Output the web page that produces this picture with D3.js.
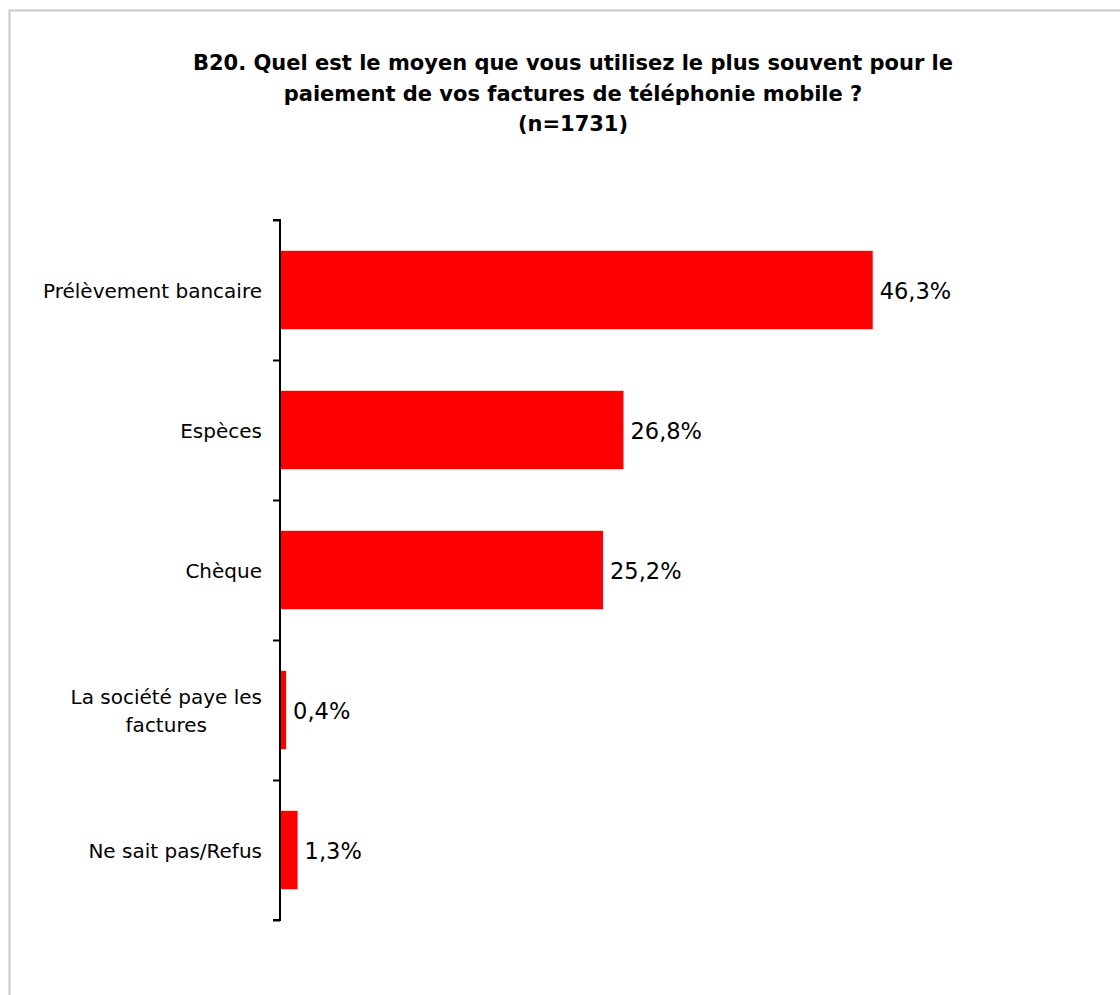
<!DOCTYPE html>
<html><head><meta charset="utf-8">
<script src="https://cdn.jsdelivr.net/npm/d3@7"></script>
<style>
html,body{margin:0;padding:0;background:#fff;}
svg{display:block;}
</style></head>
<body>
<script>
const categories = ["Prélèvement bancaire", "Espèces", "Chèque", "La société paye les factures", "Ne sait pas/Refus"];
const categoryLines = [["Prélèvement bancaire"], ["Espèces"], ["Chèque"], ["La société paye les", "factures"], ["Ne sait pas/Refus"]];
const values = [46.3, 26.8, 25.2, 0.4, 1.3];
const valueLabels = ["46,3%", "26,8%", "25,2%", "0,4%", "1,3%"];
const titleLines = ["B20. Quel est le moyen que vous utilisez le plus souvent pour le", "paiement de vos factures de téléphonie mobile ?", "(n=1731)"];

const W = 1120, H = 995;
const FONT = "'DejaVu Sans', sans-serif";
const svg = d3.select("body").append("svg").attr("width", W).attr("height", H);

svg.append("rect").attr("x", 9.5).attr("y", 10.5).attr("width", 1120).attr("height", 1000)
  .attr("fill", "#fff").attr("stroke", "#c8c8c8").attr("stroke-width", 2);

const title = svg.append("text").attr("text-anchor", "middle")
  .attr("font-family", FONT).attr("font-weight", "bold").attr("font-size", 21).attr("fill", "#000");
titleLines.forEach((t, i) => title.append("tspan").attr("x", 573).attr("y", 70 + i * 30.5).text(t));

const x = d3.scaleLinear().domain([0, 50]).range([281, 920]);
const y = d3.scaleBand().domain(categories).range([220, 920]).paddingInner(0.44).paddingOuter(0.22);

svg.append("g").selectAll("rect").data(values).join("rect")
  .attr("x", x(0)).attr("y", (d, i) => y(categories[i]))
  .attr("width", d => x(d) - x(0)).attr("height", y.bandwidth())
  .attr("fill", "#ff0000");

const yAxis = d3.axisLeft(d3.scaleLinear().domain([0, 5]).range([220, 920])).ticks(5).tickSize(7).tickFormat("");
const ag = svg.append("g").attr("transform", "translate(280,0)").call(yAxis);
ag.selectAll("path,line").attr("stroke", "#000").attr("stroke-width", 2);
ag.select("path").attr("d", "M-7,220H0V920H-7");

svg.append("g").selectAll("text").data(values).join("text")
  .attr("x", d => x(d) + 7).attr("y", (d, i) => y(categories[i]) + y.bandwidth() / 2)
  .attr("dy", "0.38em").attr("font-family", FONT).attr("font-size", 22.5).attr("fill", "#000")
  .text((d, i) => valueLabels[i]);

const lab = svg.append("g").selectAll("text").data(categories).join("text")
  .attr("font-family", FONT).attr("font-size", 20).attr("fill", "#000").attr("text-anchor", "middle");
lab.each(function (c, i) {
  const lines = categoryLines[i];
  const el = d3.select(this);
  const cy = y(c) + y.bandwidth() / 2;
  lines.forEach((l, j) => el.append("tspan").text(l)
    .attr("y", cy + (j - (lines.length - 1) / 2) * 28).attr("dy", "0.38em"));
  const widths = [];
  el.selectAll("tspan").each(function () { widths.push(this.getComputedTextLength()); });
  const wmax = d3.max(widths);
  el.selectAll("tspan").attr("x", 262 - wmax / 2);
});
</script>
</body></html>
